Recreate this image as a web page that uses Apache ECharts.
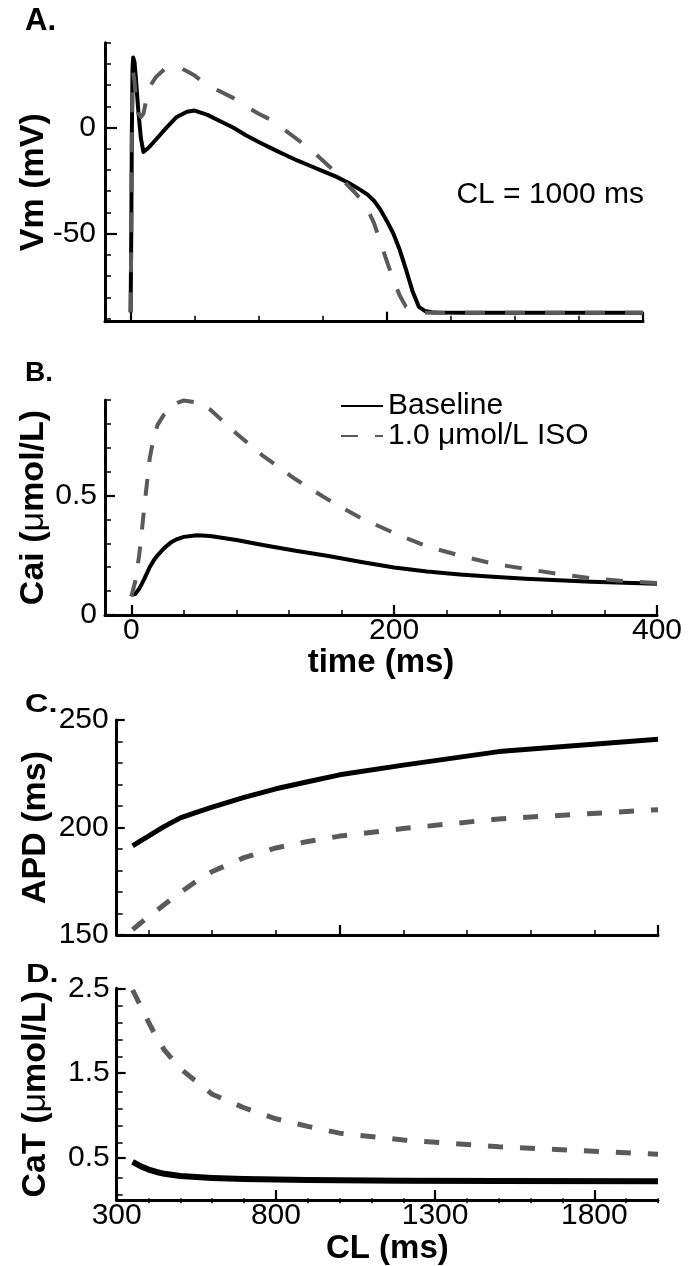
<!DOCTYPE html>
<html><head><meta charset="utf-8">
<script src="https://cdn.jsdelivr.net/npm/echarts@6/dist/echarts.min.js"></script>
<style>html,body{margin:0;padding:0;background:#fff}#c{width:688px;height:1266px}</style>
</head><body><div id="c"></div>
<script>
// ---------- Panel A: action potential (CL = 1000 ms) ----------
const timeA = [0, 0.5, 1, 1.5, 2, 3, 4, 6, 8, 10, 14, 20, 28, 36, 44, 50, 60, 70, 80, 90, 100, 110, 120, 130, 140, 150, 160, 170, 175, 180, 185, 190, 195, 200, 205, 210, 215, 220, 225, 230, 235, 240, 260, 300, 350, 400];
const vmBaseline = [-87, -50, 0, 28, 33, 31, 24, 8, -5, -11.5, -9.5, -5.5, 0, 5, 7.5, 8, 6, 3, 0, -3.6, -6.8, -9.8, -12.7, -15.5, -18, -20.5, -23, -26, -27.8, -29.6, -31.6, -34.5, -38.7, -44, -49.8, -57.5, -67, -77, -84.5, -86.5, -87, -87.2, -87.3, -87.3, -87.3, -87.3];
const vmIso = [-87, -50, 0, 22, 26, 22, 15, 7, 5, 6.5, 18.5, 24, 28.3, 29, 26.5, 24.5, 20, 17, 14, 10, 6.5, 3.5, -1, -5.5, -10, -15.5, -21, -27.5, -30.6, -34, -38.5, -45, -54, -63, -71.5, -79, -84.5, -86.5, -87, -87.2, -87.3, -87.3, -87.3, -87.3, -87.3, -87.3];

// ---------- Panel B: intracellular Ca transient ----------
const timeB = [0, 3, 6, 8, 10, 14, 17, 20, 25, 30, 35, 40, 50, 60, 80, 100, 125, 150, 175, 200, 225, 250, 275, 300, 325, 350, 375, 400];
const caiBaseline = [0.085, 0.088, 0.11, 0.13, 0.152, 0.2, 0.228, 0.25, 0.28, 0.303, 0.318, 0.327, 0.334, 0.331, 0.314, 0.293, 0.269, 0.247, 0.222, 0.199, 0.182, 0.17, 0.16, 0.152, 0.145, 0.139, 0.135, 0.131];
const caiIso = [0.077, 0.14, 0.25, 0.35, 0.457, 0.655, 0.74, 0.796, 0.84, 0.87, 0.888, 0.898, 0.89, 0.86, 0.76, 0.667, 0.568, 0.482, 0.405, 0.343, 0.287, 0.249, 0.215, 0.193, 0.172, 0.154, 0.142, 0.134];

// ---------- Panels C & D: rate dependence ----------
const cycleLengths = [350, 375, 400, 425, 450, 500, 550, 600, 700, 800, 900, 1000, 1200, 1500, 2000];
const apdBaseline = [191.5, 193.8, 196, 198.3, 200.5, 204.5, 207, 209.5, 214, 218, 221.3, 224.5, 229, 235.3, 241];
const apdIso = [152.5, 155.6, 158.5, 161.3, 164.2, 169.8, 175, 179.5, 186, 190.5, 193.5, 196, 199.5, 204, 208.3];
const catBaseline = [0.45, 0.40, 0.36, 0.332, 0.31, 0.285, 0.272, 0.262, 0.25, 0.243, 0.238, 0.233, 0.229, 0.225, 0.222];
const catIso = [2.48, 2.29, 2.1, 1.92, 1.77, 1.55, 1.40, 1.25, 1.09, 0.96, 0.87, 0.79, 0.71, 0.63, 0.54];

// ---------- Tick / label values ----------
const aXMajor = [0, 200, 400], aXMinor = [50, 100, 150, 250, 300, 350];
const aYMajor = [-50, 0], aYMinor = [-90, -80, -70, -60, -40, -30, -20, -10, 10, 20, 30, 40], aYLabels = [-50, 0];
const bXMajor = [0, 200, 400], bXMinor = [40, 80, 120, 160, 240, 280, 320, 360], bXLabels = [0, 200, 400];
const bYMajor = [0, 0.5], bYMinor = [0.1, 0.2, 0.3, 0.4, 0.6, 0.7, 0.8, 0.9], bYLabels = [0, 0.5];
const cXMajor = [1000, 2000], cXMinor = [400, 600, 800, 1200, 1400, 1600, 1800];
const cYMajor = [150, 200, 250], cYMinor = [160, 170, 180, 190, 210, 220, 230, 240], cYLabels = [150, 200, 250];
const dXMajor = [300, 800, 1300, 1800], dXMinor = [400, 500, 600, 700, 900, 1000, 1100, 1200, 1400, 1500, 1600, 1700, 1900, 2000], dXLabels = [300, 800, 1300, 1800];
const dYMajor = [0.5, 1.5, 2.5], dYMinor = [0.1, 0.3, 0.7, 0.9, 1.1, 1.3, 1.7, 1.9, 2.1, 2.3], dYLabels = [0.5, 1.5, 2.5];

const FONT = '"Liberation Sans", Arial, Helvetica, sans-serif';
const zip = (xs, ys) => xs.map((x, i) => [x, ys[i]]);

const rects = [
  { left: 105, right: 45, top: 42.7, bottom: 944.3 },
  { left: 105, right: 31, top: 400, bottom: 651 },
  { left: 116.7, right: 30, top: 720, bottom: 331 },
  { left: 116.7, right: 30, top: 988.3, bottom: 62.7 }
];
const grids = rects.concat(rects).map(r => Object.assign({ containLabel: false }, r));

function mainAxis(dim, gi, min, max, major, labels, tickLen, margin, name, nameGap, nameSize, rich) {
  const ax = {
    type: 'value', gridIndex: gi, min: min, max: max,
    position: dim === 'x' ? 'bottom' : 'left',
    axisLine: { show: true, onZero: false, lineStyle: { color: '#000', width: 3 } },
    axisTick: { show: true, inside: true, length: tickLen, customValues: major, lineStyle: { color: '#000', width: 2.2 } },
    axisLabel: { show: labels.length > 0, customValues: labels, margin: margin, fontSize: 30, color: '#000', fontFamily: FONT,
      formatter: v => String(v) },
    splitLine: { show: false }
  };
  if (name) {
    ax.name = name; ax.nameLocation = 'middle'; ax.nameGap = nameGap;
    ax.nameTextStyle = { fontSize: nameSize, fontWeight: 'bold', color: '#000', fontFamily: FONT };
    if (dim === 'y') { ax.nameRotate = 90; ax.nameMoveOverlap = false; }
    if (rich) ax.nameTextStyle.rich = rich;
  }
  return ax;
}
function minorAxis(dim, gi, min, max, minor, tickLen) {
  return {
    type: 'value', gridIndex: gi, min: min, max: max,
    position: dim === 'x' ? 'bottom' : 'left',
    axisLine: { show: false, onZero: false },
    axisTick: { show: true, inside: true, length: tickLen, customValues: minor, lineStyle: { color: '#000', width: 1.5 } },
    axisLabel: { show: false },
    splitLine: { show: false }
  };
}
const muRich = {
  b: { fontSize: 34, fontWeight: 'bold', color: '#000', fontFamily: FONT },
  n: { fontSize: 34, fontWeight: 'normal', color: '#000', fontFamily: FONT }
};

const xAxes = [
  mainAxis('x', 0, -20, 400, aXMajor, [], 10, 1),
  mainAxis('x', 1, -20, 400, bXMajor, bXLabels, 10, 1, 'time (ms)', 26, 33),
  mainAxis('x', 2, 300, 2000, cXMajor, [], 10, 1),
  mainAxis('x', 3, 300, 2000, dXMajor, dXLabels, 10, 1, 'CL (ms)', 24, 33),
  minorAxis('x', 4, -20, 400, aXMinor, 6),
  minorAxis('x', 5, -20, 400, bXMinor, 5),
  minorAxis('x', 6, 300, 2000, cXMinor, 5),
  minorAxis('x', 7, 300, 2000, dXMinor, 5)
];
const yAxes = [
  mainAxis('y', 0, -91.5, 40, aYMajor, aYLabels, 12, 9, 'Vm (mV)', 54, 34),
  mainAxis('y', 1, 0, 0.9, bYMajor, bYLabels, 10, 8, '{b|Cai (}{n|μ}{b|mol/L)}', 54, 34, muRich),
  mainAxis('y', 2, 150, 250, cYMajor, cYLabels, 8, 8, 'APD (ms)', 64, 34),
  mainAxis('y', 3, 0, 2.5, dYMajor, dYLabels, 9, 7, '{b|CaT (}{n|μ}{b|mol/L)}', 64, 34, muRich),
  minorAxis('y', 4, -91.5, 40, aYMinor, 6),
  minorAxis('y', 5, 0, 0.9, bYMinor, 6),
  minorAxis('y', 6, 150, 250, cYMinor, 6),
  minorAxis('y', 7, 0, 2.5, dYMinor, 6)
];

const GRAY = '#5a5a5a';
function line(name, gi, data, color, width, dash, z) {
  return {
    name: name, type: 'line', xAxisIndex: gi, yAxisIndex: gi, data: data,
    symbol: 'none', showSymbol: false, smooth: false, z: z,
    lineStyle: { color: color, width: width, type: dash || 'solid', cap: 'butt', join: 'round' },
    itemStyle: { color: color }, emphasis: { disabled: true }
  };
}
const NB = 'Baseline', NI = '1.0 μmol/L ISO';
const series = [
  line(NB, 1, zip(timeB, caiBaseline), '#000', 4, null, 2),
  line(NI, 1, zip(timeB, caiIso), GRAY, 4, [17, 17], 3),
  line(NB, 0, zip(timeA, vmBaseline), '#000', 4, null, 2),
  line(NI, 0, zip(timeA, vmIso), GRAY, 4, [20, 20], 3),
  line(NB, 2, zip(cycleLengths, apdBaseline), '#000', 5, null, 2),
  line(NI, 2, zip(cycleLengths, apdIso), GRAY, 5, [15, 17], 3),
  line(NB, 3, zip(cycleLengths, catBaseline), '#000', 6, null, 2),
  line(NI, 3, zip(cycleLengths, catIso), GRAY, 5, [15, 17], 3)
];

function label(text, x, y, size, weight, align, sx) {
  return { type: 'text', x: x, y: y, silent: true, scaleX: sx || 1,
    style: { text: text, fill: '#000', font: (weight || 'bold') + ' ' + size + 'px ' + FONT,
      textAlign: align || 'left', textVerticalAlign: 'middle' } };
}

const chart = echarts.init(document.getElementById('c'), null, { renderer: 'canvas' });
chart.setOption({
  animation: false,
  backgroundColor: '#fff',
  grid: grids,
  xAxis: xAxes,
  yAxis: yAxes,
  legend: {
    data: [NB, NI], orient: 'vertical', left: 335, top: 386, itemWidth: 42, itemHeight: 14, itemGap: 0,
    itemStyle: { opacity: 0 },
    textStyle: { fontSize: 30, color: '#000', fontFamily: FONT, lineHeight: 29 },
    selectedMode: false
  },
  series: series,
  graphic: [
    label('A.', 25, 21.5, 31),
    label('B.', 25, 373, 28),
    label('C.', 25, 705, 25, 'bold', 'left', 1.3),
    label('D.', 26, 975, 25, 'bold', 'left', 1.3),
    label('CL = 1000 ms', 644, 195, 30, 'normal', 'right')
  ]
});
</script></body></html>
